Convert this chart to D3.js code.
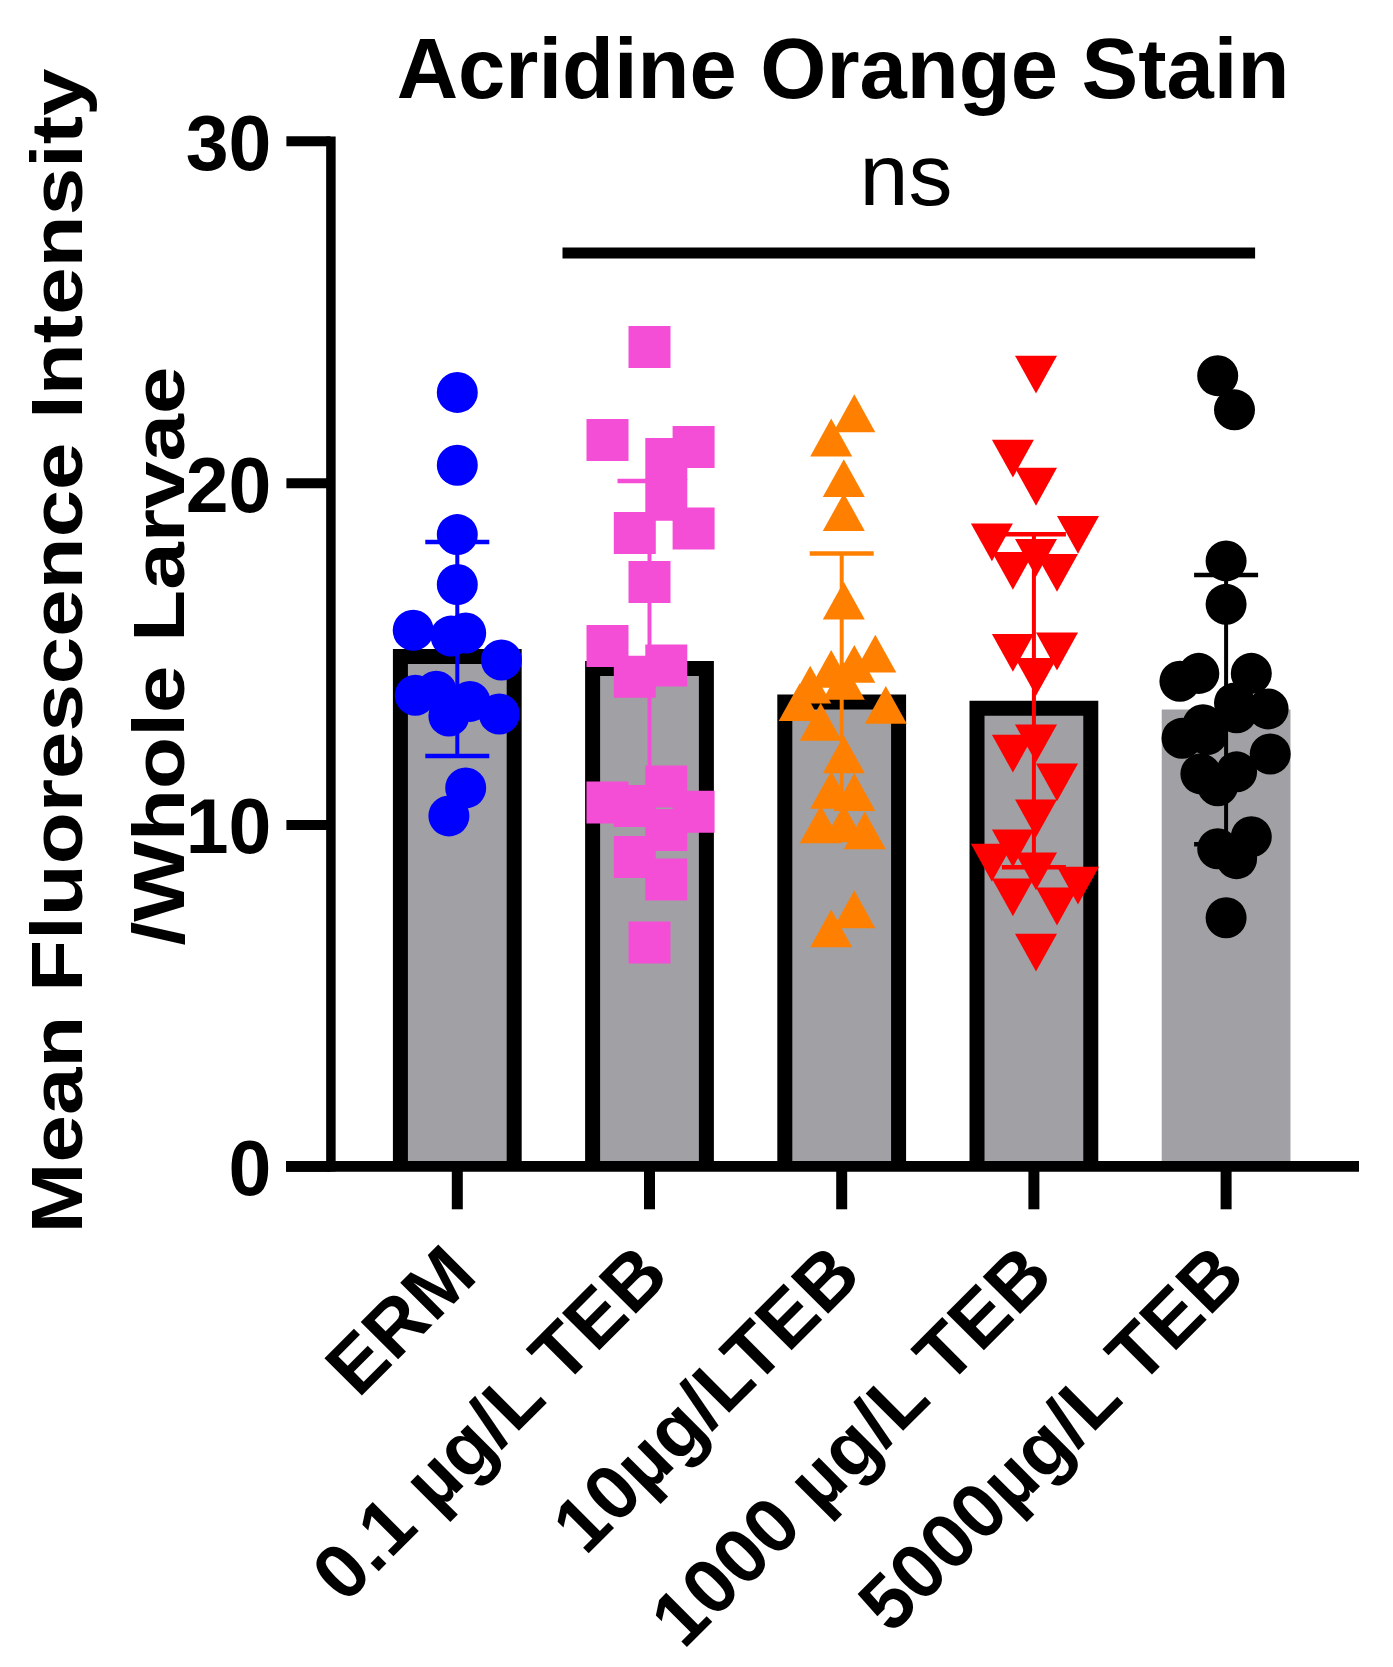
<!DOCTYPE html>
<html>
<head>
<meta charset="utf-8">
<script src="https://cdn.jsdelivr.net/npm/d3@7"></script>
<style>
    body { margin: 0; background: #fff; }
    text { font-family: "Liberation Sans", Arial, sans-serif; }
</style>
</head>
<body>
<div id="chart"></div>
<script>
// Data
const groups = ["ERM", "0.1 µg/L TEB", "10µg/LTEB", "1000 µg/L TEB", "5000µg/L TEB"]
const means = [15.13, 14.78, 13.8, 13.62, 13.36]
const sds = [3.13, 5.27, 4.13, 4.87, 3.94]
const yTicks = [0, 10, 20, 30]

const ermValues = [22.64, 20.51, 18.48, 17.02, 15.68, 15.51, 15.6, 14.81, 13.78, 13.9, 13.17, 13.6, 13.23, 11.07, 10.25]
const ermLanes = [0, 0, 0, 0, -2.1, -0.3, 0.4, 2.1, -2, -1, -0.4, 0.6, 2, 0.4, -0.4]

const teb01Values = [23.97, 21.25, 21.04, 20.69, 19.5, 18.66, 18.53, 17.09, 15.22, 14.65, 14.32, 11.11, 10.64, 10.54, 10.37, 9.84, 9.05, 8.39, 6.55]
const teb01Lanes = [0, -2, 2.1, 0.8, 0.8, 2.1, -0.7, 0, -2, 0.8, -0.7, 0.8, -2, -0.7, 2.1, 0.8, -0.7, 0.8, 0]

const teb10Values = [22.03, 21.32, 20.13, 19.14, 16.55, 15.0, 14.7, 14.55, 14.2, 14.09, 13.58, 13.5, 13.0, 12.05, 11.01, 10.95, 10.0, 10.03, 9.83, 7.52, 6.96]
const teb10Lanes = [0.6, -0.5, 0.1, 0.1, 0.1, 1.6, 0.6, -0.5, 0.1, -1.5, -2, 2.1, -1, 0.1, -0.5, 0.6, -1, 0.1, 1.1, 0.6, -0.5]

const teb1000Values = [23.16, 20.7, 19.88, 18.25, 18.47, 17.8, 17.42, 17.36, 15.02, 15.06, 14.32, 12.37, 12.07, 11.23, 10.18, 9.3, 8.88, 8.63, 8.21, 7.87, 7.6, 6.25]
const teb1000Lanes = [0.1, -1, 0.1, -2, 2.1, 0.1, -1, 1.1, -1, 1.1, 0.1, 0.1, -1, 1.1, 0.1, -1, -2, 0.1, 2.1, -1, 1.1, 0.1]

const teb5000Values = [23.13, 22.13, 17.71, 16.44, 14.42, 14.19, 14.42, 13.38, 13.55, 12.92, 12.52, 13.27, 12.06, 12.63, 11.48, 11.54, 11.13, 9.64, 9.29, 9.0, 7.27]
const teb5000Lanes = [-0.4, 0.4, 0, 0, -1.3, -2.2, 1.2, 2, 0.4, -1.1, -2.1, 0.5, 2.1, -0.9, -1.2, 0.5, -0.4, 1.2, -0.4, 0.5, 0]

const groupValues = [ermValues, teb01Values, teb10Values, teb1000Values, teb5000Values]
const groupLanes = [ermLanes, teb01Lanes, teb10Lanes, teb1000Lanes, teb5000Lanes]

function drawChart() {
  // Dimensions
    const dimensions = {
        width: 1393,
        height: 1667,
        xAxisY: 1166.3,
        yAxisX: 330.4,
        yTop: 140.8,
    }

    const colors = ["#0000ff", "#f54ed6", "#ff8000", "#ff0000", "#000000"]
    const outlines = ["#000", "#000", "#000", "#000", "none"]
    const barFill = "#a1a1a5"
    const outlineWidth = 15
    const laneWidth = 21

    // triangles measured as bounding boxes (w x 0.9w)
    const triangleUp = {
        draw(context, size) {
            const w = Math.sqrt(size / 0.45), h = 0.9 * w
            context.moveTo(0, -h / 2)
            context.lineTo(w / 2, h / 2)
            context.lineTo(-w / 2, h / 2)
            context.closePath()
        }
    }
    const triangleDown = {
        draw(context, size) {
            const w = Math.sqrt(size / 0.45), h = 0.9 * w
            context.moveTo(0, h / 2)
            context.lineTo(w / 2, -h / 2)
            context.lineTo(-w / 2, -h / 2)
            context.closePath()
        }
    }
    const symbols = [
        d3.symbol(d3.symbolCircle, Math.PI * 20.5 * 20.5),
        d3.symbol(d3.symbolSquare, 42 * 42),
        d3.symbol(triangleUp, 0.45 * 42 * 42),
        d3.symbol(triangleDown, 0.45 * 42 * 42),
        d3.symbol(d3.symbolCircle, Math.PI * 20.5 * 20.5),
    ]

  // Canvas
    const svg = d3.select("#chart")
        .append("svg")
            .attr("width", dimensions.width)
            .attr("height", dimensions.height)

  // Scales
    const xScale = d3.scaleBand()
        .domain(groups)
        .range([361.2, 1322.2])
        .paddingInner(0.33)
        .paddingOuter(0.165)

    const yScale = d3.scaleLinear()
        .domain([0, 30])
        .range([dimensions.xAxisY, dimensions.yTop])

    const cx = g => xScale(g) + xScale.bandwidth() / 2
    const inset = i => outlines[i] == "none" ? 0 : outlineWidth / 2

  // Bars: open at the bottom, outline drawn inside the bar
    const barPath = (d, i) => {
        const p = d3.path()
        const x0 = xScale(d) + inset(i), x1 = xScale(d) + xScale.bandwidth() - inset(i)
        const top = yScale(means[i]) + inset(i), base = yScale(0)
        p.moveTo(x0, base)
        p.lineTo(x0, top)
        p.lineTo(x1, top)
        p.lineTo(x1, base)
        return p.toString()
    }
    svg.append("g")
        .selectAll("path")
        .data(groups)
        .join("path")
            .attr("d", barPath)
            .attr("fill", barFill)
            .attr("stroke", (d, i) => outlines[i])
            .attr("stroke-width", outlineWidth)
            .attr("stroke-linejoin", "miter")

  // Points
    groups.forEach((g, i) => {
        const points = groupValues[i].map((v, j) => ({ v, lane: groupLanes[i][j] }))
        svg.append("g")
            .selectAll("path")
            .data(points)
            .join("path")
                .attr("d", symbols[i])
                .attr("transform", d => `translate(${cx(g) + d.lane * laneWidth},${yScale(d.v)})`)
                .attr("fill", colors[i])
    })

  // Error bars (mean ± SD)
    const errors = svg.append("g")
    groups.forEach((g, i) => {
        const lo = yScale(means[i] - sds[i]), hi = yScale(means[i] + sds[i])
        errors.append("line")
            .attr("x1", cx(g)).attr("x2", cx(g))
            .attr("y1", lo).attr("y2", hi)
            .attr("stroke", colors[i])
            .attr("stroke-width", 4)
        ;[lo, hi].forEach(y => {
            errors.append("line")
                .attr("x1", cx(g) - 32).attr("x2", cx(g) + 32)
                .attr("y1", y).attr("y2", y)
                .attr("stroke", colors[i])
                .attr("stroke-width", 4.5)
        })
    })

  // Axes
    const yAxis = svg.append("g")
        .attr("transform", `translate(${dimensions.yAxisX},0)`)
        .call(d3.axisLeft(yScale)
            .tickValues(yTicks)
            .tickSize(44)
            .tickSizeOuter(0)
            .tickPadding(15))
    yAxis.select(".domain")
        .attr("stroke", "#000")
        .attr("stroke-width", 9.5)
        .attr("stroke-linecap", "square")
    yAxis.selectAll(".tick line")
        .attr("stroke", "#000")
        .attr("stroke-width", 10)
    yAxis.selectAll(".tick text")
        .attr("dy", "0.37em")
        .attr("fill", "#000")
        .style("font-size", "77px")
        .style("font-weight", "bold")

    svg.append("line")
        .attr("x1", 286).attr("x2", 1359)
        .attr("y1", dimensions.xAxisY).attr("y2", dimensions.xAxisY)
        .attr("stroke", "#000")
        .attr("stroke-width", 10.7)

    const xAxis = svg.append("g")
        .attr("transform", `translate(0,${dimensions.xAxisY})`)
        .call(d3.axisBottom(xScale)
            .tickSize(43)
            .tickSizeOuter(0))
    xAxis.select(".domain").remove()
    xAxis.selectAll(".tick line")
        .attr("stroke", "#000")
        .attr("stroke-width", 11)
    xAxis.selectAll(".tick text")
        .attr("x", 0).attr("y", 0).attr("dy", 0)
        .attr("transform", "translate(22,112) rotate(-45)")
        .attr("text-anchor", "end")
        .attr("fill", "#000")
        .style("font-size", "77px")
        .style("font-weight", "bold")

  // Axis title
    const yLabel = svg.append("g")
        .attr("transform", "translate(0,651) rotate(-90)")
    yLabel.append("text")
        .attr("x", 0).attr("y", 82)
        .attr("text-anchor", "middle")
        .attr("textLength", 1165)
        .attr("lengthAdjust", "spacingAndGlyphs")
        .style("font-size", "72px")
        .style("font-weight", "bold")
        .text("Mean Fluorescence Intensity")
    yLabel.append("text")
        .attr("x", -5).attr("y", 184)
        .attr("text-anchor", "middle")
        .attr("textLength", 579)
        .attr("lengthAdjust", "spacingAndGlyphs")
        .style("font-size", "72px")
        .style("font-weight", "bold")
        .text("/Whole Larvae")

  // Title
    svg.append("text")
        .attr("x", 843)
        .attr("y", 98)
        .attr("text-anchor", "middle")
        .style("font-size", "85px")
        .style("font-weight", "bold")
        .text("Acridine Orange Stain")

  // Significance
    svg.append("line")
        .attr("x1", cx(groups[1]) - 87).attr("x2", cx(groups[4]) + 29)
        .attr("y1", 253).attr("y2", 253)
        .attr("stroke", "#000")
        .attr("stroke-width", 11)
    svg.append("text")
        .attr("x", 906)
        .attr("y", 205)
        .attr("text-anchor", "middle")
        .style("font-size", "88px")
        .text("ns")
}

drawChart()
</script>
</body>
</html>
